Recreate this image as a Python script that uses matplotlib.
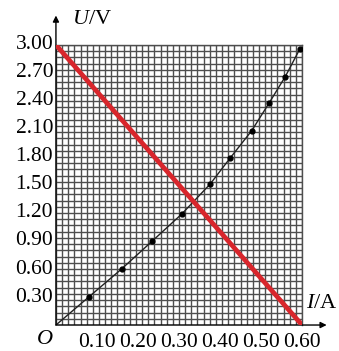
import numpy as np
import matplotlib
matplotlib.use("Agg")
import matplotlib.pyplot as plt

# data
I_pts = [0.0, 0.08, 0.16, 0.235, 0.307, 0.376, 0.425, 0.477, 0.52, 0.559, 0.595]
U_pts = [0.0, 0.30, 0.60, 0.90, 1.19, 1.51, 1.79, 2.08, 2.38, 2.66, 2.96]
line_I = [0.0, 0.60]
line_U = [3.00, 0.0]
x_ticks = [0.10, 0.20, 0.30, 0.40, 0.50, 0.60]
y_ticks = [0.30, 0.60, 0.90, 1.20, 1.50, 1.80, 2.10, 2.40, 2.70, 3.00]

plt.rcParams['font.family'] = ['Liberation Serif', 'DejaVu Serif']
plt.rcParams['mathtext.fontset'] = 'custom'
plt.rcParams['mathtext.rm'] = 'Liberation Serif'
plt.rcParams['mathtext.it'] = 'Liberation Serif:italic'

fig = plt.figure(figsize=(3.39, 3.51), dpi=100)
ax = fig.add_axes([0.165, 0.074, 0.726, 0.798])
ax.set_xlim(0, 0.60)
ax.set_ylim(0, 3.00)

# grid paper
gcol = '#4e4e4e'
for x in np.linspace(0, 0.60, 41):
    ax.axvline(x, color=gcol, lw=1.0, zorder=1)
for y in np.linspace(0, 3.00, 46):
    ax.axhline(y, color=gcol, lw=1.0, zorder=1)

ax.plot(I_pts, U_pts, color='#222222', lw=1.0, zorder=3)
ax.plot(I_pts[1:], U_pts[1:], 'o', color='black', ms=3.5, zorder=4)
ax.plot(line_I, line_U, color='#d8262c', lw=3.4, solid_capstyle='butt', zorder=5)

ax.set_xticks(x_ticks)
ax.set_xticklabels([f"{v:.2f}" for v in x_ticks])
ax.set_yticks(y_ticks)
ax.set_yticklabels([f"{v:.2f}" for v in y_ticks])
ax.tick_params(length=0, labelsize=15.5, pad=2)
ax.tick_params(axis='x', pad=6)
for lab in ax.get_yticklabels():
    lab.set_va('center')

for s in ['top', 'right']:
    ax.spines[s].set_color(gcol)
    ax.spines[s].set_linewidth(1.0)
for s in ['left', 'bottom']:
    ax.spines[s].set_visible(False)

# axes with arrows
ax.annotate('', xy=(0, 1.105), xytext=(0, 0), xycoords='axes fraction',
            arrowprops=dict(arrowstyle='-|>', color='black', lw=1.0,
                            mutation_scale=9, shrinkA=0, shrinkB=0),
            annotation_clip=False)
ax.annotate('', xy=(1.10, 0), xytext=(0, 0), xycoords='axes fraction',
            arrowprops=dict(arrowstyle='-|>', color='black', lw=1.0,
                            mutation_scale=9, shrinkA=0, shrinkB=0),
            annotation_clip=False)

fig.text(72 / 339, 1 - 20 / 351, r'$U$/V', fontsize=16, va='center', ha='left')
fig.text(306 / 339, 1 - 304 / 351, r'$I$/A', fontsize=16, va='center', ha='left')
fig.text(45 / 339, 1 - 339 / 351, r'$O$', fontsize=16, va='center', ha='center')

fig.savefig('out.png', dpi=100)
